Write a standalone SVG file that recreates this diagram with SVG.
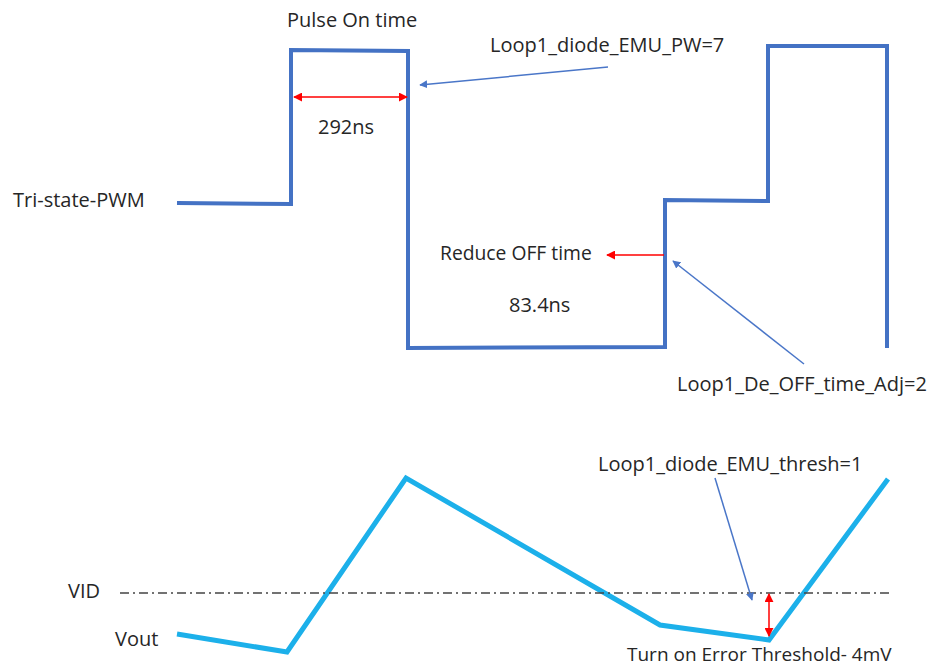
<svg xmlns="http://www.w3.org/2000/svg" width="930" height="668" viewBox="0 0 930 668">
<style>
text{font-family:"Open Sans","Noto Sans","Liberation Sans",sans-serif;font-size:20px;fill:#262626}
.pwm{fill:none;stroke:#4472c4;stroke-width:4;stroke-linejoin:miter}
.vout{fill:none;stroke:#1cb0ea;stroke-width:5;stroke-linejoin:miter}
.call{stroke:#4a76c8;stroke-width:1.5;fill:none}
.red{stroke:#ff0000;stroke-width:1.5;fill:none}
.vid{stroke:#444;stroke-width:1.5;stroke-dasharray:9 4 2 4;fill:none}
</style>
<defs>
<marker id="ab" viewBox="0 0 10 10" refX="9" refY="5" markerWidth="8" markerHeight="8" orient="auto" markerUnits="userSpaceOnUse"><path d="M0,0 L10,5 L0,10 Z" fill="#4a76c8"/></marker>
<marker id="ar" viewBox="0 0 10 10" refX="9" refY="5" markerWidth="9" markerHeight="9" orient="auto-start-reverse" markerUnits="userSpaceOnUse"><path d="M0,0 L10,5 L0,10 Z" fill="#ff0000"/></marker>
</defs>
<g id="pwm-wave">
<path class="pwm" d="M177,203 L291,204 L291,50 L408,51 L408,348 L665,347 L665,200 L768,201 L768,46 L887,46 L887,348"/>
</g>
<g id="vout-wave">
<path class="vout" d="M177,634 L287,652 L406,478 L660,625 L769,640 L888,479"/>
</g>
<g id="vid-line">
<line class="vid" x1="120" y1="593" x2="892" y2="593"/>
</g>
<g id="connectors">
<line class="red" x1="294" y1="97" x2="407" y2="97" marker-start="url(#ar)" marker-end="url(#ar)"/>
<line class="call" x1="608" y1="67" x2="420" y2="85" marker-end="url(#ab)"/>
<line class="red" x1="664" y1="255" x2="607" y2="255" marker-end="url(#ar)"/>
<line class="call" x1="804" y1="364" x2="673" y2="261" marker-end="url(#ab)"/>
<line class="call" x1="715" y1="478" x2="752" y2="600" marker-end="url(#ab)"/>
<line class="red" x1="769" y1="594" x2="769" y2="636" marker-start="url(#ar)" marker-end="url(#ar)"/>
</g>
<g id="labels">
<text x="287" y="27">Pulse On time</text>
<text x="318" y="134">292ns</text>
<text x="490" y="52">Loop1_diode_EMU_PW=7</text>
<text x="13" y="207">Tri-state-PWM</text>
<text x="440" y="260" style="font-size:19.3px">Reduce OFF time</text>
<text x="509" y="312">83.4ns</text>
<text x="677" y="391">Loop1_De_OFF_time_Adj=2</text>
<text x="598" y="471">Loop1_diode_EMU_thresh=1</text>
<text x="68" y="598">VID</text>
<text x="115" y="646">Vout</text>
<text x="627" y="661" style="font-size:19px">Turn on Error Threshold- 4mV</text>
</g>
</svg>
